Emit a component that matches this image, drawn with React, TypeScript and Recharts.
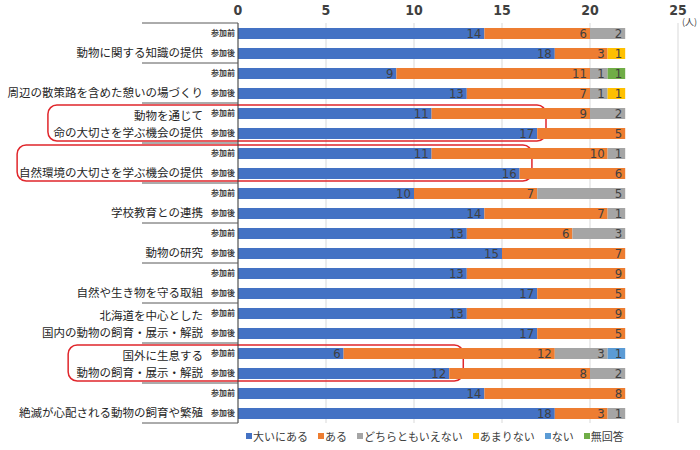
import React from 'react';
import {
  BarChart, Bar, XAxis, YAxis, CartesianGrid, Legend, LabelList, ReferenceArea, Customized,
} from 'recharts';

const groups = [
  ['動物に関する知識の提供'],
  ['周辺の散策路を含めた憩いの場づくり'],
  ['動物を通じて', '命の大切さを学ぶ機会の提供'],
  ['自然環境の大切さを学ぶ機会の提供'],
  ['学校教育との連携'],
  ['動物の研究'],
  ['自然や生き物を守る取組'],
  ['北海道を中心とした', '国内の動物の飼育・展示・解説'],
  ['国外に生息する', '動物の飼育・展示・解説'],
  ['絶滅が心配される動物の飼育や繁殖'],
];
const phases = ['参加前', '参加後'];

const seriesNames = ['大いにある', 'ある', 'どちらともいえない', 'あまりない', 'ない', '無回答'];
const seriesColors = ['#4472C4', '#ED7D31', '#A5A5A5', '#FFC000', '#5B9BD5', '#70AD47'];

const vOoini = [14, 18, 9, 13, 11, 17, 11, 16, 10, 14, 13, 15, 13, 17, 13, 17, 6, 12, 14, 18];
const vAru = [6, 3, 11, 7, 9, 5, 10, 6, 7, 7, 6, 7, 9, 5, 9, 5, 12, 8, 8, 3];
const vDochira = [2, 0, 1, 1, 2, 0, 1, 0, 5, 1, 3, 0, 0, 0, 0, 0, 3, 2, 0, 1];
const vAmari = [0, 1, 0, 1, 0, 0, 0, 0, 0, 0, 0, 0, 0, 0, 0, 0, 0, 0, 0, 0];
const vNai = [0, 0, 0, 0, 0, 0, 0, 0, 0, 0, 0, 0, 0, 0, 0, 0, 1, 0, 0, 0];
const vMukaito = [0, 0, 1, 0, 0, 0, 0, 0, 0, 0, 0, 0, 0, 0, 0, 0, 0, 0, 0, 0];
const seriesValues = [vOoini, vAru, vDochira, vAmari, vNai, vMukaito];

const xTicks = [0, 5, 10, 15, 20, 25];

// highlighted groups (index) with horizontal extent in value units
const highlights = [
  { group: 2, x1: -10.8, x2: 17.5 },
  { group: 3, x1: -12.55, x2: 16.7 },
  { group: 8, x1: -9.65, x2: 12.8 },
];

const data = groups.flatMap((g, gi) =>
  phases.map((p, pi) => {
    const i = gi * 2 + pi;
    const row: Record<string, any> = { key: `${gi}-${pi}`, gi, pi, phase: p };
    seriesNames.forEach((s, si) => {
      row[s] = seriesValues[si][i];
    });
    return row;
  })
);

const JP = "'Noto Sans CJK JP', 'Noto Sans', sans-serif";
const NUM = "'Liberation Sans Narrow', 'DejaVu Sans Condensed', 'Liberation Sans', sans-serif";

const CatTick = (props: any) => {
  const { y, payload } = props;
  const row = data.find((d) => d.key === payload.value);
  if (!row) return null;
  const lines = groups[row.gi];
  return (
    <g>
      <text x={235} y={y} dy={3} textAnchor="end" fontSize={8} fontWeight="bold" fill="#404040" fontFamily={JP}>
        {row.phase}
      </text>
      {row.gi === 0 && row.pi === 0 && (
        <line x1={142} x2={238} y1={y - 10} y2={y - 10} stroke="#595959" strokeWidth={1} />
      )}
      {row.pi === 1 && (
        <>
          <line x1={142} x2={238} y1={y + 10} y2={y + 10} stroke="#595959" strokeWidth={1} />
          {lines.map((ln, li) => (
            <text
              key={li}
              x={203}
              y={y - (lines.length - 1 - li) * 17}
              dy={4}
              textAnchor="end"
              fontSize={11.5}
              fill="#262626"
              fontFamily={JP}
            >
              {ln}
            </text>
          ))}
        </>
      )}
    </g>
  );
};

const RoundBox = (props: any) => {
  const { x, y, width, height } = props;
  return (
    <rect x={x} y={y + 2} width={width} height={height - 4} rx={9} ry={9}
      fill="none" stroke="#E0262B" strokeWidth={1.5} />
  );
};

const LegendContent = () => (
  <div style={{ display: 'flex', alignItems: 'center', whiteSpace: 'nowrap', fontFamily: JP, fontSize: 11, color: '#404040' }}>
    {seriesNames.map((s, si) => (
      <span key={s} style={{ display: 'inline-flex', alignItems: 'center', marginRight: 10 }}>
        <span style={{ display: 'inline-block', width: 6, height: 6, background: seriesColors[si], marginRight: 1 }} />
        {s}
      </span>
    ))}
  </div>
);

export default function App() {
  return (
    <div style={{ position: 'absolute', left: 0, top: 0, width: 700, height: 450, background: '#fff' }}>
      <BarChart
        width={700}
        height={450}
        data={data}
        layout="vertical"
        margin={{ top: 0, right: 22, bottom: 27, left: 0 }}
        barSize={11}
      >
        <CartesianGrid horizontal={false} stroke="#D9D9D9" />
        <XAxis
          type="number"
          orientation="top"
          domain={[0, 25]}
          ticks={xTicks}
          height={23}
          axisLine={false}
          tickLine={false}
          tick={{ fontSize: 14, fill: '#404040', fontFamily: NUM, fontWeight: 'bold' }}
          tickMargin={2}
        />
        <YAxis
          type="category"
          dataKey="key"
          width={238}
          tickLine={false}
          axisLine={{ stroke: '#404040' }}
          tick={<CatTick />}
          interval={0}
        />
        {seriesNames.map((s, si) => (
          <Bar key={s} dataKey={s} stackId="a" fill={seriesColors[si]} isAnimationActive={false}>
            <LabelList
              dataKey={s}
              position="insideRight"
              offset={3}
              formatter={(v: any) => (v ? v : '')}
              style={{ fontSize: 13, fill: '#404040', fontFamily: NUM }}
            />
          </Bar>
        ))}
        {highlights.map((h) => (
          <ReferenceArea
            key={h.group}
            x1={h.x1}
            x2={h.x2}
            y1={`${h.group}-0`}
            y2={`${h.group}-1`}
            ifOverflow="visible"
            shape={<RoundBox />}
          />
        ))}
        <Customized
          component={() => (
            <text x={697} y={25} textAnchor="end" fontSize={9} fill="#404040" fontFamily={JP}>(人)</text>
          )}
        />
        <Legend
          verticalAlign="middle"
          align="center"
          content={<LegendContent />}
          wrapperStyle={{ top: 428, left: 246, width: 420 }}
        />
      </BarChart>
    </div>
  );
}
